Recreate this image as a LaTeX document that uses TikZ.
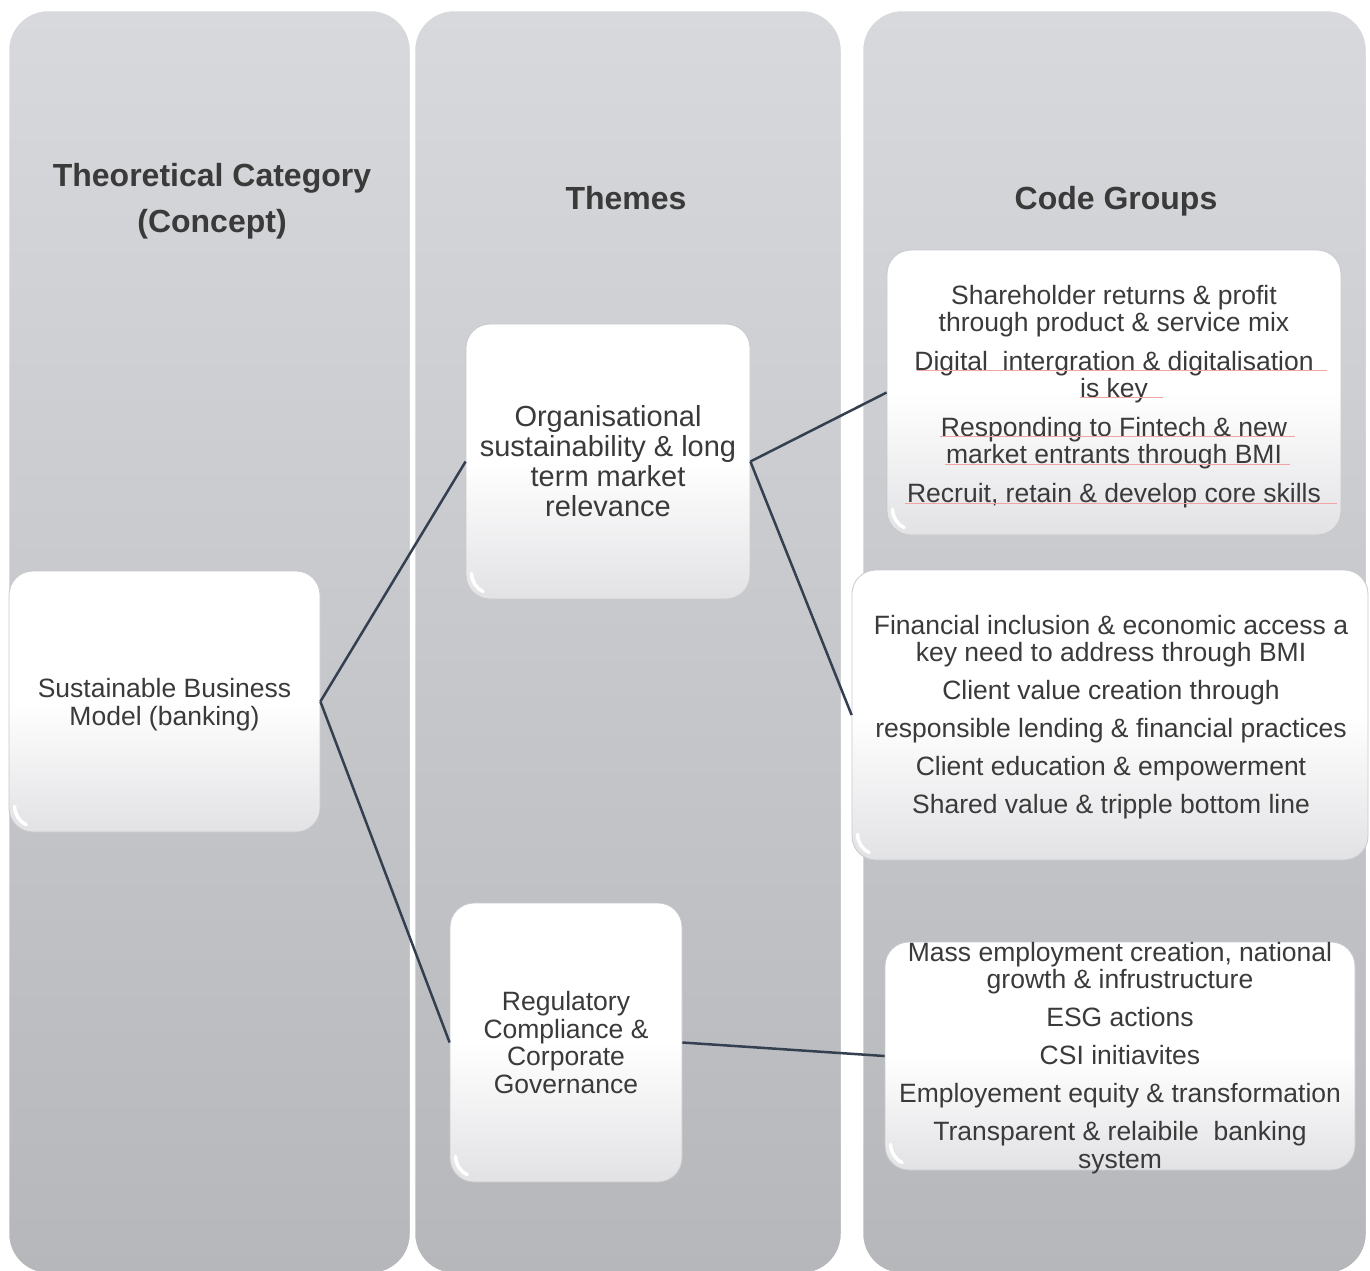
\documentclass[tikz,border=0pt]{standalone}
\usepackage{fontspec}
\setmainfont{Liberation Sans}

\definecolor{coltop}{RGB}{216,217,221}
\definecolor{colbot}{RGB}{182,183,187}
\definecolor{txt}{RGB}{58,58,58}
\definecolor{linkc}{RGB}{52,64,80}
\definecolor{cardbot}{RGB}{226,226,229}
\definecolor{cardedge}{RGB}{200,201,205}
\definecolor{squig}{RGB}{240,165,165}

\tikzset{
  column/.style={rounded corners=40pt, top color=coltop, bottom color=colbot,
    draw=white, line width=2.5pt},
  card/.style={rounded corners=24pt, top color=white, bottom color=cardbot,
    middle color=white, draw=cardedge, line width=0.8pt, inner sep=0pt},
  cardtext/.style={align=center, text=txt, inner sep=0pt,
    font=\fontsize{26.5}{27.5}\selectfont},
  heading/.style={align=center, text=txt, font=\bfseries\fontsize{32}{46}\selectfont},
  link/.style={draw=linkc, line width=2.5pt},
  gloss/.style={draw=white, line width=3.5pt, line cap=round},
  spell/.style={draw=squig, line width=1pt},
}

% white highlight curling round the lower left corner of a card
\newcommand{\cardgloss}[1]{%
  \draw[gloss] ([shift={(6pt,26pt)}]#1.south west)
    arc[start angle=180, end angle=245, radius=20pt];}

\begin{document}
\begin{tikzpicture}[x=1pt, y=-1pt]
\useasboundingbox (0,0) rectangle (1370,1270);

% three background columns
\path[column] (8,10) rectangle (411,1274);
\path[column] (414,10) rectangle (842,1274);
\path[column] (862,10) rectangle (1367,1274);

% column headings
\node[heading] (hconcept) at (212,201) {Theoretical Category\\(Concept)};
\node[heading] (hthemes) at (626,198) {Themes};
\node[heading] (hcodes) at (1116,201) {Code Groups};

% concept
\node[card, minimum width=311pt, minimum height=261pt] (sbm) at (164.5,701.5) {};
\node[cardtext] (sbmtext) at (164.5,704.5) {Sustainable Business\\Model (banking)};

% themes
\node[card, minimum width=284pt, minimum height=275pt] (org) at (608,461.5) {};
\node[cardtext, font=\fontsize{29}{30}\selectfont] (orgtext) at (608,461.5)
  {Organisational\\sustainability \& long\\term market\\relevance};
\node[card, minimum width=232pt, minimum height=279pt] (reg) at (566,1042.5) {};
\node[cardtext] (regtext) at (566,1042.5)
  {Regulatory\\Compliance \&\\Corporate\\Governance};

% code groups
\node[card, minimum width=454pt, minimum height=285pt] (cg1) at (1114,392.5) {};
\node[cardtext] (cg1text) at (1114,396.5)
  {Shareholder returns \& profit\\through product \& service mix\\[11pt]
   Digital\ \ intergration \& digitalisation\\is key\\[11pt]
   Responding to Fintech \& new\\market entrants through BMI\\[11pt]
   Recruit, retain \& develop core skills};
\node[card, minimum width=516pt, minimum height=290pt] (cg2) at (1110,715) {};
\node[cardtext] (cg2text) at (1111,717)
  {Financial inclusion \& economic access a\\key need to address through BMI\\[10.5pt]
   Client value creation through\\[10.5pt]
   responsible lending \& financial practices\\[10.5pt]
   Client education \& empowerment\\[10.5pt]
   Shared value \& tripple bottom line};
\node[card, minimum width=470pt, minimum height=228pt] (cg3) at (1120,1056) {};
\node[cardtext] (cg3text) at (1120,1058)
  {Mass employment creation, national\\growth \& infrustructure\\[10.5pt]
   ESG actions\\[10.5pt]
   CSI initiavites\\[10.5pt]
   Employement equity \& transformation\\[10.5pt]
   Transparent \& relaibile\ \ banking\\system};

% corner highlights
\cardgloss{sbm}
\cardgloss{org}
\cardgloss{reg}
\cardgloss{cg1}
\cardgloss{cg2}
\cardgloss{cg3}

% spell-check underlines
\draw[spell] (917,370) -- (1327,370);
\draw[spell] (1080,397) -- (1163,397);
\draw[spell] (940,436) -- (1295,436);
\draw[spell] (945,464) -- (1290,464);
\draw[spell] (905,503) -- (1337,503);

% connectors
\draw[link] (sbm.east) -- (org.west);
\draw[link] (sbm.east) -- (reg.west);
\draw[link] (org.east) -- (cg1.west);
\draw[link] (org.east) -- (cg2.west);
\draw[link] (reg.east) -- (cg3.west);
\end{tikzpicture}
\end{document}
